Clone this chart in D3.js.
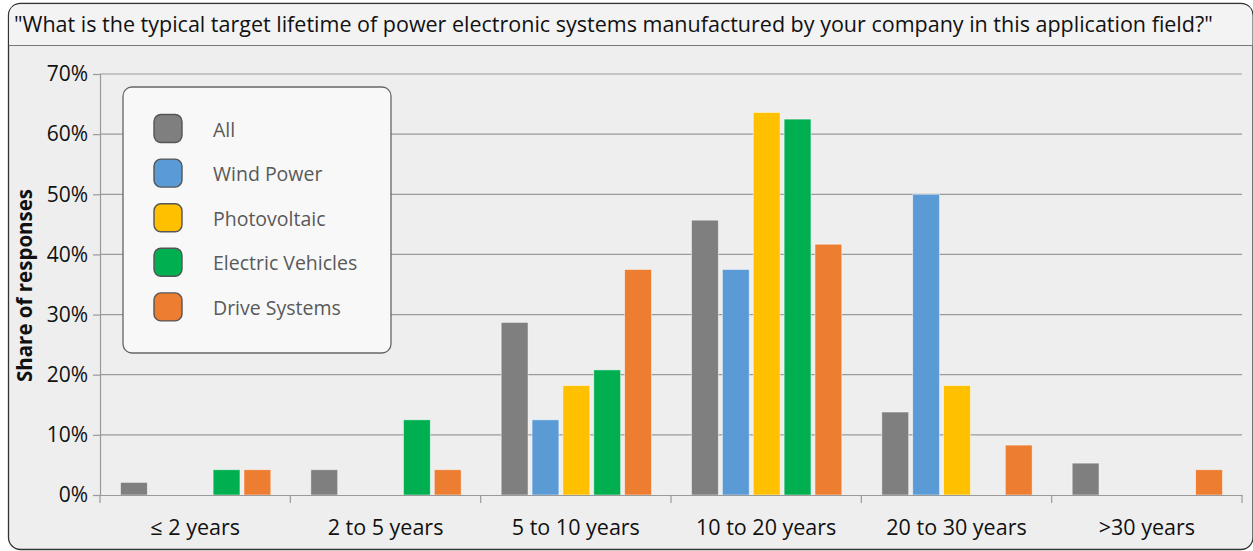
<!DOCTYPE html>
<html>
<head>
<meta charset="utf-8">
<script src="https://cdn.jsdelivr.net/npm/d3@7"></script>
<style>
  body { margin: 0; background: #fff; }
  svg { display: block; font-family: "Open Sans", "Noto Sans", sans-serif; }
</style>
</head>
<body>
<div id="chart"></div>
<script>
var categories = ["\u2264 2 years", "2 to 5 years", "5 to 10 years", "10 to 20 years", "20 to 30 years", ">30 years"];
var seriesNames = ["All", "Wind Power", "Photovoltaic", "Electric Vehicles", "Drive Systems"];
var seriesColors = ["#7f7f7f", "#5b9bd5", "#ffc000", "#00b050", "#ed7d31"];
var allValues     = [2.1, 4.2, 28.7, 45.7, 13.8, 5.3];
var windValues    = [0, 0, 12.5, 37.5, 50.0, 0];
var pvValues      = [0, 0, 18.2, 63.6, 18.2, 0];
var evValues      = [4.2, 12.5, 20.8, 62.5, 0, 0];
var driveValues   = [4.2, 4.2, 37.5, 41.7, 8.3, 4.2];
var yTicks = [0, 10, 20, 30, 40, 50, 60, 70];

var series = [allValues, windValues, pvValues, evValues, driveValues];

var W = 1253, H = 551;
var margin = {top: 74, right: 11, bottom: 56, left: 100},
    width = W - margin.left - margin.right,
    height = H - margin.top - margin.bottom;

var svg = d3.select("#chart").append("svg")
    .attr("width", W)
    .attr("height", H);

// outer frame + title bar
svg.append("rect")
    .attr("x", 8.5).attr("y", 3.5)
    .attr("width", W - 8.5).attr("height", H - 5)
    .attr("rx", 12)
    .attr("fill", "#eeeeee")
    .attr("stroke", "#333").attr("stroke-width", 1.3);

svg.append("path")
    .attr("d", "M9.2,45 V16 Q9.2,4.2 21,4.2 H1240 Q1252.3,4.2 1252.3,16 V45 Z")
    .attr("fill", "#f3f3f3");

svg.append("line")
    .attr("x1", 9).attr("x2", W - 1)
    .attr("y1", 45.5).attr("y2", 45.5)
    .attr("stroke", "#777").attr("stroke-width", 1.2);

svg.append("text")
    .attr("x", 14).attr("y", 32)
    .attr("font-size", 21.5)
    .attr("fill", "#111")
    .text("\"What is the typical target lifetime of power electronic systems manufactured by your company in this application field?\"");

var g = svg.append("g")
    .attr("transform", "translate(" + margin.left + "," + margin.top + ")");

var x0 = d3.scaleBand().domain(categories).range([0, width]).paddingInner(0).paddingOuter(0);
var x1 = d3.scaleBand().domain(d3.range(seriesNames.length))
    .range([20.5, x0.bandwidth() - 19.5]).paddingInner(0.13).paddingOuter(0);
var y = d3.scaleLinear().domain([0, 70]).range([height, 0]);

// gridlines
g.append("g")
  .selectAll("line")
  .data(yTicks.slice(1))
  .enter().append("line")
    .attr("x1", 0).attr("x2", width)
    .attr("y1", function(d){ return y(d); })
    .attr("y2", function(d){ return y(d); })
    .attr("stroke", "#9a9a9a").attr("stroke-width", 1.2);

// y axis
var yAxis = g.append("g")
    .call(d3.axisLeft(y).tickValues(yTicks).tickSize(7).tickPadding(5)
      .tickFormat(function(d){ return d + "%"; }));
yAxis.select(".domain").attr("stroke", "#9a9a9a").attr("stroke-width", 1.2);
yAxis.selectAll(".tick line").attr("stroke", "#9a9a9a").attr("stroke-width", 1.2);
yAxis.selectAll(".tick text")
    .attr("font-size", 21).attr("fill", "#111")
    .attr("font-family", "\"Open Sans\", sans-serif");

// bars
var groups = g.append("g")
  .selectAll("g")
  .data(categories)
  .enter().append("g")
    .attr("transform", function(d){ return "translate(" + x0(d) + ",0)"; });

groups.selectAll("rect")
  .data(function(d, i){ return series.map(function(s, k){ return {k: k, v: s[i]}; }); })
  .enter().append("rect")
    .filter(function(d){ return d.v > 0; })
    .attr("x", function(d){ return x1(d.k); })
    .attr("width", x1.bandwidth())
    .attr("y", function(d){ return y(d.v); })
    .attr("height", function(d){ return height - y(d.v); })
    .attr("fill", function(d){ return seriesColors[d.k]; })
    .attr("stroke", "rgba(255,255,255,0.6)")
    .attr("stroke-width", 0.8);

// x axis
var xAxis = g.append("g")
    .attr("transform", "translate(0," + height + ")")
    .call(d3.axisBottom(x0).tickSize(0).tickPadding(25));
xAxis.select(".domain").attr("stroke", "#9a9a9a").attr("stroke-width", 1.2);
xAxis.selectAll(".tick text")
    .attr("font-size", 21.5).attr("fill", "#111")
    .attr("font-family", "\"Open Sans\", sans-serif");

g.append("g")
  .selectAll("line")
  .data(d3.range(categories.length + 1))
  .enter().append("line")
    .attr("x1", function(i){ return i * x0.step(); })
    .attr("x2", function(i){ return i * x0.step(); })
    .attr("y1", height).attr("y2", height + 8)
    .attr("stroke", "#9a9a9a").attr("stroke-width", 1.2);

// y axis title
svg.append("text")
    .attr("transform", "translate(32," + (margin.top + height / 2 + 1) + ") rotate(-90)")
    .attr("text-anchor", "middle")
    .attr("font-size", 20.5)
    .attr("font-weight", "bold")
    .attr("fill", "#111")
    .text("Share of responses");

// legend
var legend = svg.append("g").attr("transform", "translate(123,87)");
legend.append("rect")
    .attr("x", 0).attr("y", 0)
    .attr("width", 268).attr("height", 266)
    .attr("rx", 9)
    .attr("fill", "#f8f8f8")
    .attr("stroke", "#666").attr("stroke-width", 1.3);

var items = legend.selectAll("g.item")
  .data(seriesNames)
  .enter().append("g")
    .attr("class", "item")
    .attr("transform", function(d, i){ return "translate(31," + (27.5 + i * 44.6) + ")"; });

items.append("rect")
    .attr("width", 28).attr("height", 28)
    .attr("rx", 7)
    .attr("fill", function(d, i){ return seriesColors[i]; })
    .attr("stroke", "#555").attr("stroke-width", 1.4);

items.append("text")
    .attr("x", 59).attr("y", 22)
    .attr("font-size", 19.5)
    .attr("fill", "#595959")
    .text(function(d){ return d; });
</script>
</body>
</html>
